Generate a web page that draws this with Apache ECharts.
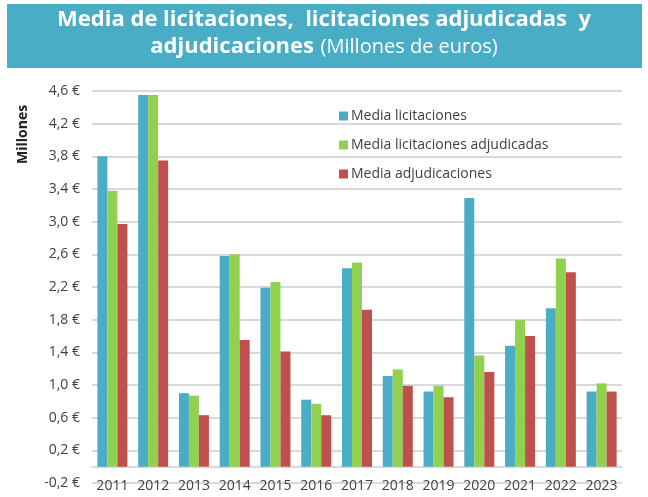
<!DOCTYPE html>
<html>
<head>
<meta charset="utf-8">
<script src="https://cdn.jsdelivr.net/npm/echarts@6/dist/echarts.min.js"></script>
<style>
  html, body { margin: 0; padding: 0; background: #fff; }
  #chart { width: 648px; height: 497px; }
</style>
</head>
<body>
<div id="chart"></div>
<script>
var years = ['2011', '2012', '2013', '2014', '2015', '2016', '2017', '2018', '2019', '2020', '2021', '2022', '2023'];
var mediaLicitaciones   = [3.80, 4.55, 0.90, 2.58, 2.19, 0.82, 2.43, 1.11, 0.92, 3.29, 1.48, 1.94, 0.92];
var mediaLicAdjudicadas = [3.38, 4.55, 0.87, 2.60, 2.26, 0.77, 2.50, 1.19, 0.99, 1.36, 1.80, 2.55, 1.02];
var mediaAdjudicaciones = [2.97, 3.75, 0.63, 1.55, 1.41, 0.63, 1.92, 0.99, 0.85, 1.16, 1.60, 2.38, 0.92];
var seriesNames = ['Media licitaciones', 'Media licitaciones adjudicadas', 'Media adjudicaciones'];

(function () {
    var chart = echarts.init(document.getElementById('chart'));
    var font = '"Open Sans", "Noto Sans", sans-serif';

    function bar(name, data, color) {
        return {
            name: name, type: 'bar', data: data,
            barWidth: 10, barGap: '0%',
            itemStyle: { color: color }
        };
    }

    chart.setOption({
        textStyle: { fontFamily: font },
        graphic: [
            { type: 'rect', left: 7, top: 4, shape: { width: 635, height: 64 }, style: { fill: '#4aadc6' } },
            {
                type: 'text', left: 'center', top: 9,
                style: {
                    text: 'Media de licitaciones,  licitaciones adjudicadas  y',
                    fill: '#fff', font: 'bold 22px "Open Sans", sans-serif'
                }
            },
            {
                type: 'text', left: 'center', top: 36,
                style: {
                    text: '{b|adjudicaciones}  {n|(Millones de euros)}',
                    rich: {
                        b: { fill: '#fff', font: 'bold 22px "Open Sans", sans-serif' },
                        n: { fill: '#fff', font: '20px "Open Sans", sans-serif' }
                    }
                }
            },
            {
                type: 'text', x: 16, y: 164, rotation: Math.PI / 2,
                style: { text: 'Millones', fill: '#222', font: 'bold 14px "Open Sans", sans-serif' }
            }
        ],
        legend: {
            orient: 'vertical', left: 334, top: 104,
            itemWidth: 9, itemHeight: 9, itemGap: 15, icon: 'rect',
            data: seriesNames,
            textStyle: { fontSize: 14, color: '#404040', padding: [0, 0, 0, -2] }
        },
        grid: { left: 92, right: 26, top: 91, bottom: 14, outerBoundsMode: 'none' },
        xAxis: {
            type: 'category', data: years,
            axisTick: { show: false },
            axisLine: { onZero: true, lineStyle: { color: '#d9d9d9', width: 2 } },
            axisLabel: { interval: 0, margin: -4, fontSize: 14, color: '#404040' }
        },
        yAxis: {
            type: 'value', min: -0.2, max: 4.6, interval: 0.4,
            axisLine: { show: false },
            axisTick: { show: false },
            splitLine: { lineStyle: { color: '#d9d9d9', width: 2 } },
            axisLabel: {
                margin: 12, fontSize: 14, color: '#404040',
                formatter: function (v) { return v.toFixed(1).replace('.', ',') + ' €'; }
            }
        },
        series: [
            bar(seriesNames[0], mediaLicitaciones, '#4bacc6'),
            bar(seriesNames[1], mediaLicAdjudicadas, '#92d050'),
            bar(seriesNames[2], mediaAdjudicaciones, '#c0504d')
        ]
    });
})();
</script>
</body>
</html>
